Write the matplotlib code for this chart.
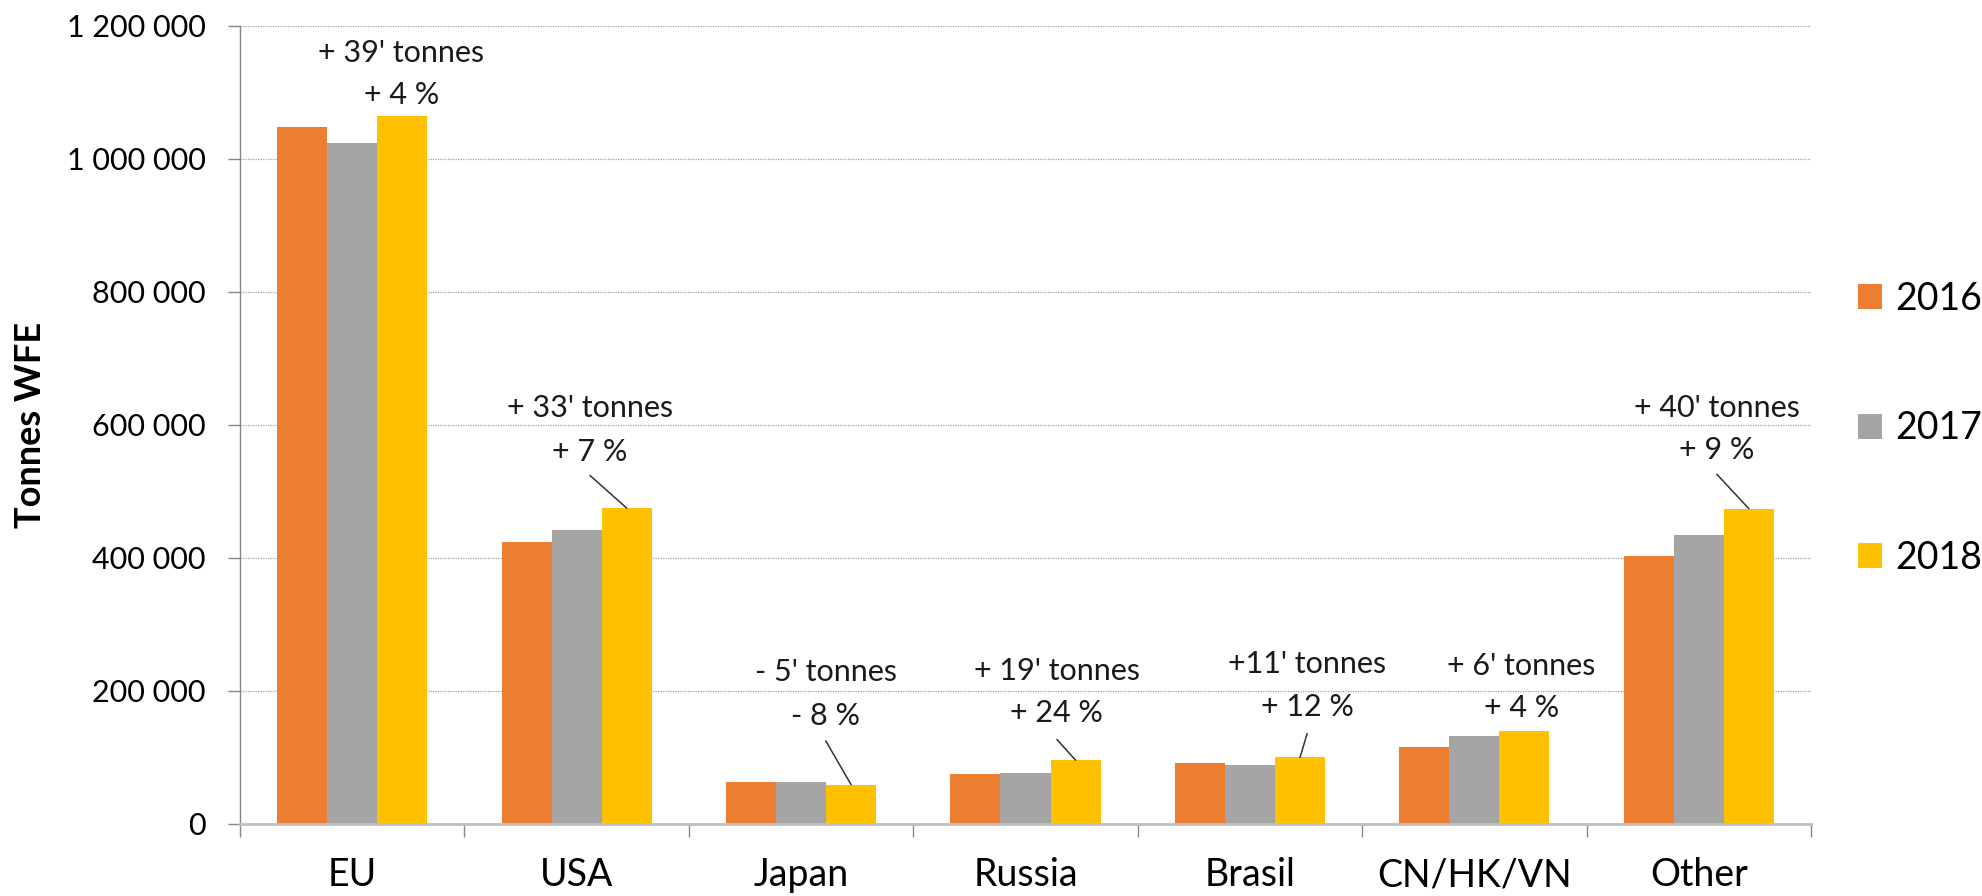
import numpy as np
import matplotlib
matplotlib.use('Agg')
import matplotlib.pyplot as plt
from matplotlib.patches import Patch
from matplotlib.ticker import FuncFormatter, MultipleLocator, FixedLocator

plt.rcParams['font.family'] = ['Lato', 'DejaVu Sans']

# Data (tonnes WFE)
regions = ["EU", "USA", "Japan", "Russia", "Brasil", "CN/HK/VN", "Other"]
years = ["2016", "2017", "2018"]
v2016 = [1048500, 424500, 63500, 75000, 91500, 116000, 403000]
v2017 = [1024500, 442500, 63500, 76000, 89000, 133000, 435000]
v2018 = [1064000, 475000, 59000, 96000, 100000, 140000, 474000]

change_tonnes = ["+ 39' tonnes", "+ 33' tonnes", "- 5' tonnes", "+ 19' tonnes",
                 "+11' tonnes", "+ 6' tonnes", "+ 40' tonnes"]
change_pct = ["+ 4 %", "+ 7 %", "- 8 %", "+ 24 %", "+ 12 %", "+ 4 %", "+ 9 %"]

# Layout of the annotations (data coords): x, y of tonnes text, y of % text, y where leader starts
ann_x = [0.22, 1.06, 2.11, 3.14, 4.255, 5.21, 6.08]
ann_y_tonnes = [1159000, 625000, 228000, 230000, 241000, 238000, 626000]
ann_y_pct = [1096000, 560000, 162000, 167000, 176000, 174000, 562000]
leader_start = [None, 524000, 125000, 127000, 136000, None, 526000]

colors = ['#ED7D31', '#A5A5A5', '#FFC000']
bar_w = 0.223

fig = plt.figure(figsize=(19.83, 8.96), dpi=100)
ax = fig.add_axes([0.121, 0.0804, 0.7923, 0.8906])

x = np.arange(len(regions))
for k, vals in enumerate([v2016, v2017, v2018]):
    ax.bar(x + (k - 1) * bar_w, vals, width=bar_w, color=colors[k], zorder=3)

ax.set_xlim(-0.5, len(regions) - 0.5)
ax.set_ylim(0, 1200000)

# y axis
ax.yaxis.set_major_locator(MultipleLocator(200000))
ax.yaxis.set_major_formatter(FuncFormatter(lambda v, p: '{:,}'.format(int(v)).replace(',', ' ')))
ax.tick_params(axis='y', length=8.6, width=1, color='#868686', pad=16, labelsize=22)
ax.grid(axis='y', linestyle=(0, (1, 1)), color='#a0a0a0', linewidth=0.9, zorder=0)
ax.set_ylabel("Tonnes WFE", fontsize=26, fontweight='bold')
ax.yaxis.set_label_coords(-0.123, 0.5)

# x axis: labels at centers, tick marks between categories
ax.set_xticks(x)
ax.set_xticklabels(regions, fontsize=27)
ax.tick_params(axis='x', which='major', length=0, pad=24)
ax.xaxis.set_minor_locator(FixedLocator(np.arange(-0.5, len(regions), 1.0)))
ax.tick_params(axis='x', which='minor', length=9.4, width=1, color='#868686')

for s in ['top', 'right']:
    ax.spines[s].set_visible(False)
ax.spines['left'].set_color('#868686')
ax.spines['left'].set_linewidth(1)
ax.spines['bottom'].set_color('#bfbfbf')
ax.spines['bottom'].set_linewidth(2)
ax.spines['bottom'].set_zorder(4)

# change annotations
for i in range(len(regions)):
    ax.text(ann_x[i], ann_y_tonnes[i], change_tonnes[i], ha='center', va='center',
            fontsize=22, color='#1a1a1a', zorder=5)
    ax.text(ann_x[i], ann_y_pct[i], change_pct[i], ha='center', va='center',
            fontsize=22, color='#1a1a1a', zorder=5)
    if leader_start[i] is not None:
        ax.annotate('', xy=(x[i] + bar_w, v2018[i]), xytext=(ann_x[i], leader_start[i]),
                    arrowprops=dict(arrowstyle='-', color='#333333', lw=1.1,
                                    shrinkA=0, shrinkB=0), zorder=5)

handles = [Patch(facecolor=c, edgecolor='none') for c in colors]
fig.legend(handles, years, loc='center left', bbox_to_anchor=(0.937, 0.522),
           frameon=False, fontsize=27, borderpad=0, borderaxespad=0,
           handlelength=0.65, handleheight=0.65, handletextpad=0.35, labelspacing=2.5)

plt.savefig('out.png', dpi=100)
plt.close()
